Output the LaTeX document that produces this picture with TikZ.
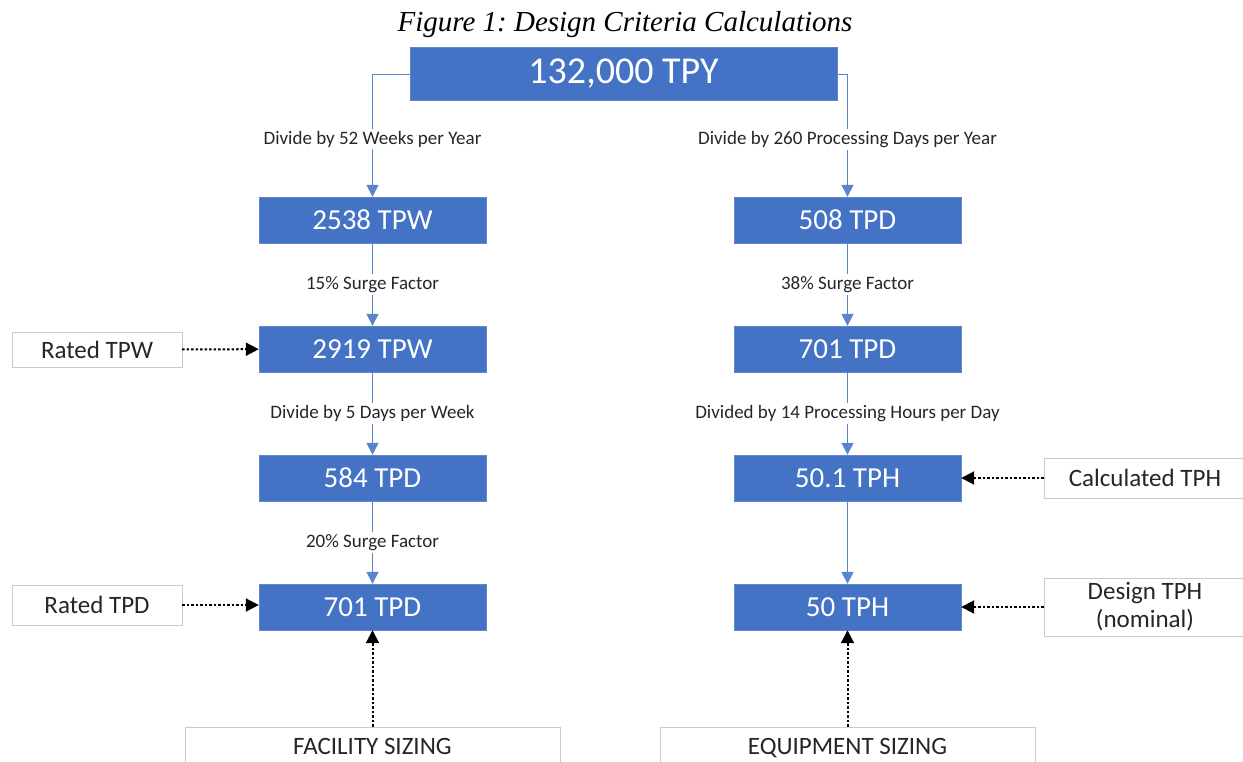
\documentclass[tikz,border=0pt]{standalone}
\usepackage{fontspec}
\setmainfont{Carlito}
\newfontfamily\captionfont{Liberation Serif}
\usetikzlibrary{positioning, arrows.meta}
\definecolor{boxblue}{HTML}{4472C4}
\definecolor{lineblue}{HTML}{5A85CB}
\definecolor{edgegray}{HTML}{CACACA}
\definecolor{labelgray}{HTML}{262626}

\tikzset{
    calcbox/.style={draw=boxblue!85!white, fill=boxblue, text=white, minimum width=227pt, minimum height=46pt, inner sep=0pt, font=\fontsize{29}{32}\selectfont},
    notebox/.style={draw=edgegray, fill=white, text=labelgray, minimum width=170pt, minimum height=36pt, inner sep=0pt, align=center, font=\fontsize{25}{27}\selectfont},
    steplabel/.style={fill=white, text=labelgray, inner sep=2pt, font=\fontsize{19}{21}\selectfont},
    flow/.style={lineblue, line width=1.4pt, -{Triangle[width=12pt, length=12pt]}},
    refer/.style={black, line width=2pt, dash pattern=on 2.5pt off 2pt, -{Triangle[width=13pt, length=13pt]}}
}

\begin{document}
\begin{tikzpicture}[x=1pt, y=-1pt]
    \useasboundingbox (0,0) rectangle (1243,761);
    \node (caption) at (625,25) {\captionfont\itshape\fontsize{29}{31}\selectfont\frenchspacing Figure 1: Design Criteria Calculations};
    \node[calcbox, minimum width=427pt, minimum height=53pt, font=\fontsize{38}{40}\selectfont] (tpy) at (623.5,73.5) {132,000 TPY};

    \node[calcbox] (l1) at (372.5,220) {2538 TPW};
    \node[calcbox] (l2) at (372.5,349) {2919 TPW};
    \node[calcbox] (l3) at (372.5,478) {584 TPD};
    \node[calcbox] (l4) at (372.5,607) {701 TPD};
    \node[calcbox] (r1) at (847.5,220) {508 TPD};
    \node[calcbox] (r2) at (847.5,349) {701 TPD};
    \node[calcbox] (r3) at (847.5,478) {50.1 TPH};
    \node[calcbox] (r4) at (847.5,607) {50 TPH};

    \node[notebox, minimum height=35pt] (ratedtpw) at (97,349.5) {Rated TPW};
    \node[notebox, minimum height=40pt] (ratedtpd) at (97,605) {Rated TPD};
    \node[notebox, minimum width=202pt, minimum height=40pt] (calctph) at (1145,478) {Calculated TPH};
    \node[notebox, minimum width=202pt, minimum height=58pt, font=\fontsize{25}{28}\selectfont] (designtph) at (1145,607) {Design TPH\\(nominal)};
    \node[notebox, minimum width=375pt, minimum height=44pt, text depth=5pt] (facility) at (372.5,749) {FACILITY SIZING};
    \node[notebox, minimum width=375pt, minimum height=44pt, text depth=5pt] (equipment) at (847.5,749) {EQUIPMENT SIZING};

    \draw[flow] ([yshift=-1pt]tpy.west) -| (l1.north) node[steplabel, pos=0.765] {Divide by 52 Weeks per Year};
    \draw[flow] ([yshift=-1pt]tpy.east) -| (r1.north) node[steplabel, pos=0.765] {Divide by 260 Processing Days per Year};
    \draw[flow] (l1) -- (l2) node[steplabel, midway] {15\% Surge Factor};
    \draw[flow] (l2) -- (l3) node[steplabel, midway] {Divide by 5 Days per Week};
    \draw[flow] (l3) -- (l4) node[steplabel, midway] {20\% Surge Factor};
    \draw[flow] (r1) -- (r2) node[steplabel, midway] {38\% Surge Factor};
    \draw[flow] (r2) -- (r3) node[steplabel, midway] {Divided by 14 Processing Hours per Day};
    \draw[flow] (r3) -- (r4);

    \draw[refer] (ratedtpw) -- (l2);
    \draw[refer] (ratedtpd.east) -- (l4.west |- ratedtpd.east);
    \draw[refer] (calctph) -- (r3);
    \draw[refer] (designtph) -- (r4);
    \draw[refer] (facility) -- (l4);
    \draw[refer] (equipment) -- (r4);
\end{tikzpicture}
\end{document}
